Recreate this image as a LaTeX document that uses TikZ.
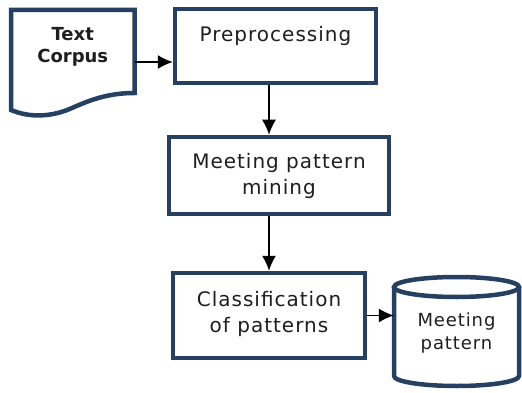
\documentclass[tikz,border=0pt]{standalone}
\usepackage{fontspec}
\setmainfont{DejaVu Sans}
\newfontfamily\largefont[LetterSpace=5]{DejaVu Sans}
\usetikzlibrary{arrows.meta}
\definecolor{boxnavy}{RGB}{38,64,98}
\definecolor{txtgray}{RGB}{30,30,30}
\begin{document}
\begin{tikzpicture}[x=1pt,y=-1pt]
		\tikzset{etape/.style={draw=boxnavy, line width=4.5pt, rectangle, align=center, text=txtgray,
		    inner sep=0pt, font=\largefont\fontsize{20}{26}\selectfont}}
		\tikzset{fleche/.style={-{Latex[length=15pt,width=14pt]}, line width=1.4pt, black}}
		\useasboundingbox (0,0) rectangle (522,393);

		% document et base
		\draw[boxnavy, line width=4.5pt, line join=miter]
		    (11,10) -- (11,110) .. controls (30,118) and (52,117) .. (72,108)
		    .. controls (92,99) and (110,93) .. (134.5,93) -- (134.5,10) -- cycle;
		\draw[boxnavy, line width=4.5pt]
		    (394,287) -- (394,376) arc [start angle=180, end angle=360, x radius=62.5pt, y radius=10pt]
		    -- (519,287);
		\draw[boxnavy, line width=4.5pt] (456.5,287) ellipse [x radius=62.5pt, y radius=10pt];

		\node[align=center, text=txtgray, inner sep=0pt, minimum width=123.5pt,
		    font=\fontsize{18}{22}\selectfont\bfseries] (corpus) at (72.75,46.5) {Text\\Corpus};
		\node[etape, minimum width=201pt, minimum height=74pt, text depth=24pt] (prep) at (275.5,46) {Preprocessing};
		\node[etape, minimum width=220pt, minimum height=77pt] (mining) at (279,175.5) {Meeting pattern\\mining};
		\node[etape, minimum width=192pt, minimum height=85pt, text depth=8pt] (classif) at (269,315.5) {Classification\\of patterns};
		\node[align=center, text=txtgray, inner sep=0pt, minimum width=125pt,
		    font=\largefont\fontsize{18}{23}\selectfont] (store) at (456.5,333) {Meeting\\pattern};

    \draw[fleche] ([yshift=-15.5pt]corpus.east) -- ([yshift=-15.5pt]corpus.east -| prep.west);
    \draw[fleche] (prep.south -| classif.north) -- (mining.north -| classif.north);
    \draw[fleche] (mining.south -| classif.north) -- (classif.north);
    \draw[fleche] (classif.east) -- (classif.east -| store.west);

		\end{tikzpicture}
\end{document}
